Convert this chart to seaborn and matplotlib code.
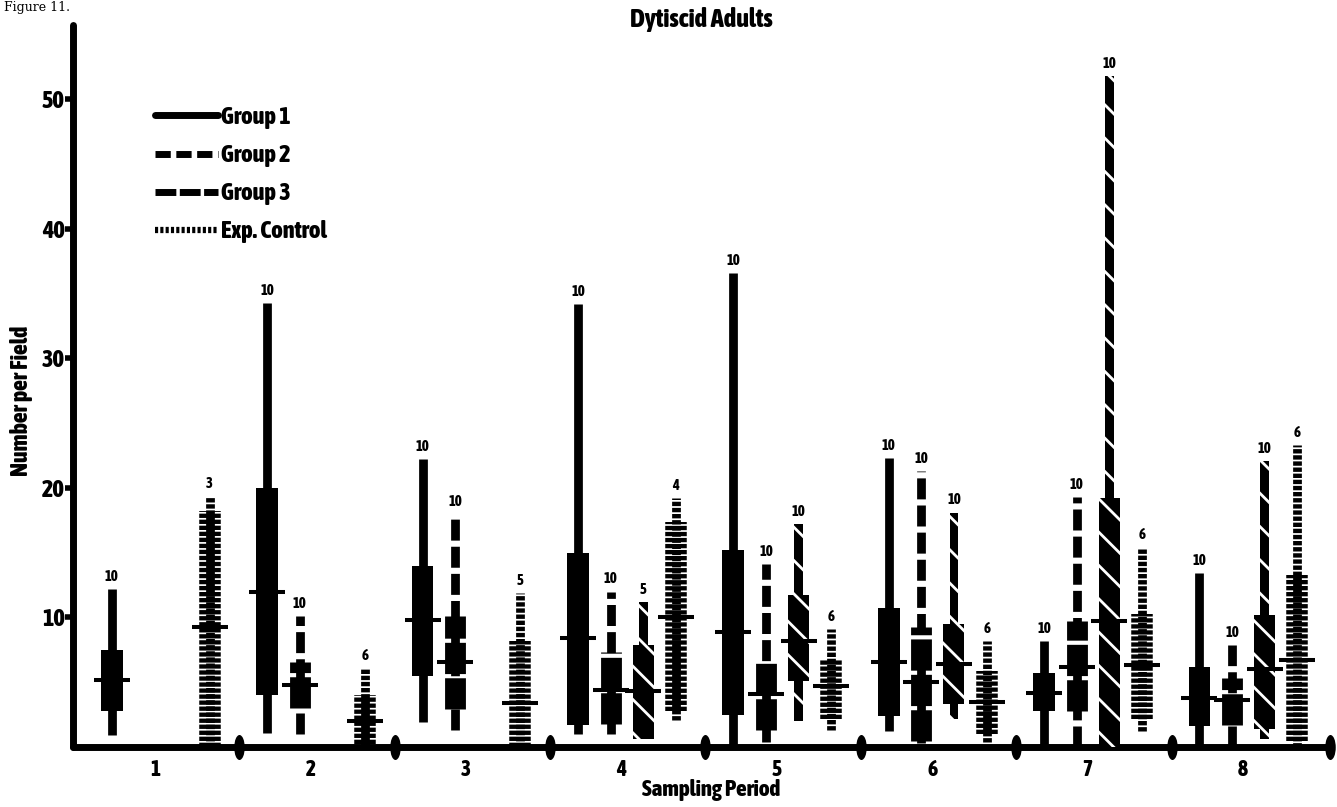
import numpy as np
import pandas as pd
import matplotlib
matplotlib.use("Agg")
import matplotlib.pyplot as plt
import seaborn as sns
from matplotlib.lines import Line2D
from matplotlib.markers import MarkerStyle
from matplotlib.transforms import Affine2D

nan = np.nan

# ---------------- data ----------------
periods = [1, 2, 3, 4, 5, 6, 7, 8]
period_labels = ["1", "2", "3", "4", "5", "6", "7", "8"]
groups = ["Group 1", "Group 2", "Group 3", "Exp. Control"]
y_ticks = [10, 20, 30, 40, 50]

g1_min  = [0.9, 1.1, 1.9, 1.0, 0.0, 1.2, 0.0, 0.0]
g1_lo   = [2.8, 4.0, 5.5, 1.7, 2.5, 2.4, 2.8, 1.6]
g1_mean = [5.2, 12.0, 9.8, 8.4, 8.9, 6.6, 4.2, 3.8]
g1_hi   = [7.5, 20.0, 14.0, 15.0, 15.2, 10.7, 5.7, 6.2]
g1_max  = [12.2, 34.3, 22.2, 34.2, 36.6, 22.3, 8.2, 13.4]
g1_n    = [10, 10, 10, 10, 10, 10, 10, 10]

g2_min  = [nan, 1.0, 1.3, 1.0, 0.4, 0.3, 0.0, 0.0]
g2_lo   = [nan, 3.0, 2.9, 1.8, 1.3, 0.5, 2.8, 1.7]
g2_mean = [nan, 4.8, 6.6, 4.4, 4.1, 5.0, 6.2, 3.6]
g2_hi   = [nan, 6.6, 10.1, 7.3, 6.7, 9.3, 9.7, 5.3]
g2_max  = [nan, 10.1, 18.0, 12.0, 14.1, 21.3, 19.3, 7.9]
g2_n    = [nan, 10, 10, 10, 10, 10, 10, 10]

g3_min  = [nan, nan, nan, 0.6, 2.0, 2.2, 0.0, 0.6]
g3_lo   = [nan, nan, nan, 0.6, 5.1, 3.3, 0.0, 1.4]
g3_mean = [nan, nan, nan, 4.3, 8.2, 6.4, 9.7, 6.0]
g3_hi   = [nan, nan, nan, 7.9, 11.7, 9.5, 19.2, 10.2]
g3_max  = [nan, nan, nan, 11.2, 17.2, 18.1, 51.8, 22.1]
g3_n    = [nan, nan, nan, 5, 10, 10, 10, 10]

ct_min  = [0.0, 0.0, 0.0, 2.1, 1.3, 0.4, 1.2, 0.0]
ct_lo   = [0.0, 0.2, 0.0, 2.8, 2.2, 1.0, 2.2, 0.5]
ct_mean = [9.3, 2.0, 3.4, 10.0, 4.7, 3.5, 6.3, 6.7]
ct_hi   = [18.2, 4.0, 8.2, 17.4, 6.7, 5.9, 10.3, 13.3]
ct_max  = [19.4, 6.1, 11.9, 19.2, 9.1, 8.2, 15.4, 23.3]
ct_n    = [3, 6, 5, 4, 6, 6, 6, 6]

# ---------------- style ----------------
sns.set_theme(style="white")
FAM = ["Asap Condensed", "Anton", "Liberation Sans Narrow", "DejaVu Sans"]
K = "black"
W = 800
plt.rcParams.update({
    "font.family": FAM,
    "font.weight": W,
    "axes.titleweight": W,
    "axes.labelweight": W,
    "hatch.linewidth": 2.0,
    "text.color": K,
    "axes.labelcolor": K,
    "xtick.color": K,
    "ytick.color": K,
})

fig = plt.figure(figsize=(13.37, 8.07), dpi=100)
ax = fig.add_axes([73 / 1337, 1 - 747 / 807, (1330 - 73) / 1337, (747 - 25) / 807])
ax.set_xlim(0.43, 8.52)
ax.set_ylim(0, 55.75)

offsets = {"Group 1": -0.32, "Group 2": -0.11, "Group 3": 0.10, "Exp. Control": 0.31}

def xs(group):
    return np.array(periods, dtype=float) + offsets[group]

def valid(a):
    return ~np.isnan(np.array(a, dtype=float))

WL = 6.3   # whisker width (pt)

# Group 1 : solid
x = xs("Group 1")
ax.vlines(x, g1_min, g1_max, colors=K, linewidth=WL, zorder=2)
ax.bar(x, np.array(g1_hi) - np.array(g1_lo), bottom=g1_lo, width=0.14,
       color=K, linewidth=0, zorder=3)

# Group 2 : dashed
x = xs("Group 2")
m = valid(g2_min)
ax.vlines(x[m], np.array(g2_min)[m], np.array(g2_max)[m], colors=K, linewidth=WL,
          linestyles=[(0, (2.4, 0.7))], zorder=2)
ax.vlines(x[m], np.array(g2_lo)[m], np.array(g2_hi)[m], colors=K, linewidth=15,
          linestyles=[(0, (1.5, 0.2))], zorder=3)

# Group 3 : diagonal stripes
x = xs("Group 3")
m = valid(g3_min)
mn, mx = np.array(g3_min)[m], np.array(g3_max)[m]
lo, hi = np.array(g3_lo)[m], np.array(g3_hi)[m]
ax.bar(x[m], mx - mn, bottom=mn, width=0.055, color=K, edgecolor="white",
       linewidth=0, hatch="\\", zorder=2)
ax.bar(x[m], hi - lo, bottom=lo, width=0.135, color=K, edgecolor="white",
       linewidth=0, hatch="\\", zorder=3)

# Exp. Control : stacked rungs
x = xs("Exp. Control")
ax.vlines(x, ct_min, ct_max, colors=K, linewidth=WL,
          linestyles=[(0, (0.5, 0.2))], zorder=2)
ax.vlines(x, ct_lo, ct_hi, colors=K, linewidth=15.5,
          linestyles=[(0, (0.2, 0.08))], zorder=3)

# means (horizontal ticks) via seaborn
rows = []
for g, arr in zip(groups, [g1_mean, g2_mean, g3_mean, ct_mean]):
    for xi, v in zip(xs(g), arr):
        if not np.isnan(v):
            rows.append({"x": xi, "mean": v, "group": g})
means = pd.DataFrame(rows)
sns.scatterplot(data=means, x="x", y="mean", marker="_", s=700, linewidth=2.9,
                color=K, ax=ax, legend=False, zorder=5)

# sample sizes
for g, mxs, ns in zip(groups, [g1_max, g2_max, g3_max, ct_max], [g1_n, g2_n, g3_n, ct_n]):
    for xi, v, n in zip(xs(g), mxs, ns):
        if not np.isnan(v):
            ax.text(xi, v + 0.4, f"{int(n)}", ha="center", va="bottom",
                    fontsize=10.5, color=K)

# axes
sns.despine(ax=ax, top=True, right=True)
for s in ("left", "bottom"):
    ax.spines[s].set_linewidth(5)
    ax.spines[s].set_color(K)
    ax.spines[s].set_capstyle("round")
ax.set_yticks(y_ticks)
ax.set_yticklabels([str(t) for t in y_ticks], fontsize=17.5)
ax.tick_params(axis="y", direction="out", length=6, width=4, pad=0, color=K, left=True)
ax.set_xticks(np.array(periods) - 0.04)
ax.set_xticklabels(period_labels, fontsize=15.5)
ax.tick_params(axis="x", length=0, pad=9)
ax.set_xlabel("Sampling Period", fontsize=16.5)
ax.xaxis.set_label_coords(0.508, -0.060, transform=ax.transAxes)
ax.xaxis.label.set_va("center")
ax.set_ylabel("")
fig.text(22 / 1337, 1 - 401 / 807, "Number per Field", rotation=90, ha="center",
         va="center", fontsize=17)

# separators on the x axis
seps = [1.5, 2.5, 3.5, 4.5, 5.5, 6.5, 7.5, 8.52]
blob = MarkerStyle("o", transform=Affine2D().scale(0.42, 1.0))
ax.plot(seps, [0] * len(seps), ls="none", marker=blob, ms=18, color=K, mew=0,
        clip_on=False, zorder=6)

fig.text(701 / 1337, 1 - 20 / 807, "Dytiscid Adults", ha="center", va="center",
         fontsize=19)
fig.text(0.003, 0.999, "Figure 11.", fontsize=9, fontweight="normal", va="top",
         family=["DejaVu Serif"])

handles = [
    Line2D([], [], color=K, lw=5),
    Line2D([], [], color=K, lw=5, ls=(0, (2.2, 0.8))),
    Line2D([], [], color=K, lw=5, ls=(0, (3.0, 0.5))),
    Line2D([], [], color=K, lw=4.5, ls=(0, (0.5, 0.35))),
]
ax.legend(handles, groups, loc="upper left", bbox_to_anchor=(155 / 1337, 1 - 106 / 807),
          bbox_transform=fig.transFigure, frameon=False,
          prop={"size": 17.5, "family": FAM, "weight": W},
          handlelength=2.6, handletextpad=0.1, labelspacing=0.62, borderpad=0,
          borderaxespad=0)

fig.savefig("out.png", dpi=100)
